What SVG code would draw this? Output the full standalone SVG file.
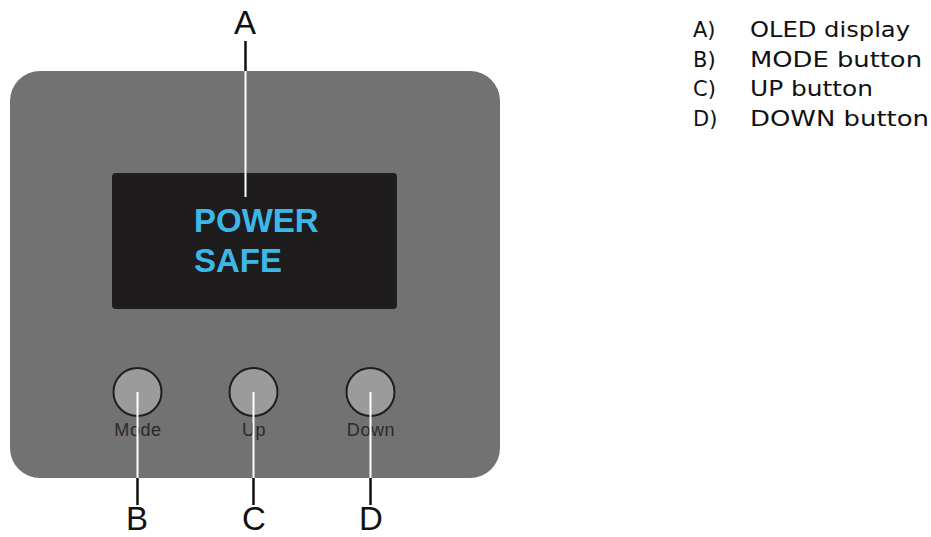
<svg xmlns="http://www.w3.org/2000/svg" width="931" height="537" viewBox="0 0 931 537">
<style>
.lbl{font-family:"Liberation Sans",Arial,sans-serif;font-size:33px;fill:#111;text-anchor:middle}
.btn{fill:#9b9b9b;stroke:#1e1e1e;stroke-width:2}
.btxt{font-family:"Liberation Sans",Arial,sans-serif;font-size:18px;fill:#2a2a2a;text-anchor:middle;letter-spacing:0.6px}
.disp{font-family:"Liberation Sans",Arial,sans-serif;font-weight:bold;font-size:33px;fill:#3cb8e8}
.leg{font-family:"DejaVu Sans","Liberation Sans",sans-serif;font-size:21px;fill:#111}
.wl{stroke:#ffffff;stroke-width:2}
.bl{stroke:#111;stroke-width:2.5}
</style>
<rect width="931" height="537" fill="#ffffff"/>
<g id="panel">
<rect x="10" y="71" width="490" height="407" rx="30" fill="#727272"/>
</g>
<g id="display">
<rect x="112" y="173" width="285" height="136" rx="4" fill="#1f1c1e"/>
<text class="disp" x="194" y="232">POWER</text>
<text class="disp" x="194" y="272">SAFE</text>
</g>
<g id="btn-mode">
<circle class="btn" cx="137.5" cy="392" r="24"/>
<text class="btxt" x="138" y="436">Mode</text>
</g>
<g id="btn-up">
<circle class="btn" cx="253.5" cy="392" r="24"/>
<text class="btxt" x="254" y="436">Up</text>
</g>
<g id="btn-down">
<circle class="btn" cx="370.5" cy="392" r="24"/>
<text class="btxt" x="371" y="436">Down</text>
</g>
<g id="connectors">
<line class="bl" x1="245.5" y1="41" x2="245.5" y2="71"/>
<line class="wl" x1="245.5" y1="71" x2="245.5" y2="197"/>
<line class="wl" x1="137.5" y1="392" x2="137.5" y2="478"/>
<line class="bl" x1="137.5" y1="478" x2="137.5" y2="505"/>
<line class="wl" x1="253.5" y1="392" x2="253.5" y2="478"/>
<line class="bl" x1="253.5" y1="478" x2="253.5" y2="505"/>
<line class="wl" x1="370.5" y1="392" x2="370.5" y2="478"/>
<line class="bl" x1="370.5" y1="478" x2="370.5" y2="505"/>
</g>
<g id="labels">
<text class="lbl" x="245" y="34">A</text>
<text class="lbl" x="137" y="530">B</text>
<text class="lbl" x="254" y="530">C</text>
<text class="lbl" x="371" y="530">D</text>
</g>
<g id="legend">
<text class="leg" x="693" y="37">A)</text>
<text class="leg" x="750" y="37" textLength="160" lengthAdjust="spacingAndGlyphs">OLED display</text>
<text class="leg" x="693" y="66.5">B)</text>
<text class="leg" x="750" y="66.5" textLength="172" lengthAdjust="spacingAndGlyphs">MODE button</text>
<text class="leg" x="693" y="96">C)</text>
<text class="leg" x="750" y="96" textLength="123" lengthAdjust="spacingAndGlyphs">UP button</text>
<text class="leg" x="693" y="125.5">D)</text>
<text class="leg" x="750" y="125.5" textLength="179" lengthAdjust="spacingAndGlyphs">DOWN button</text>
</g>
</svg>
